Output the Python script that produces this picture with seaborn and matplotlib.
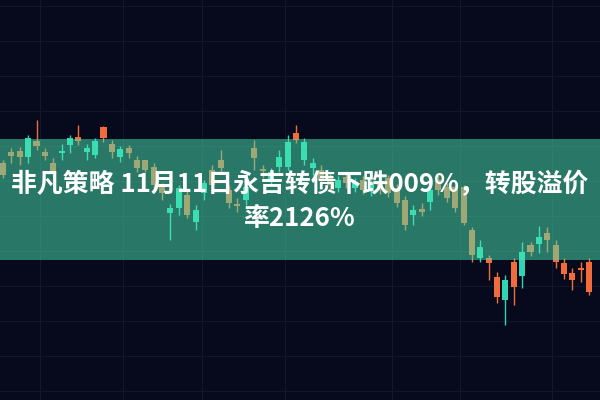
import numpy as np
import pandas as pd
import matplotlib
matplotlib.use("Agg")
import matplotlib.pyplot as plt
import seaborn as sns

# daily candles, price units
opens = [225, 244, 243, 262, 254, 244, 228, 249, 262, 259, 252, 259, 262, 248, 251, 247, 232, 230,
         215, 207, 192, 212, 185, 190, 217, 215, 232, 197, 194, 213, 242, 229, 228, 243, 258, 260,
         258, 237, 220, 215, 220, 217, 218, 210, 216, 210, 207, 197, 175, 190, 188, 210, 210, 202,
         192, 177, 145, 153, 137, 103, 120, 113, 148, 148, 163, 160, 138, 126, 120, 130, 108]
highs = [240, 252, 253, 265, 280, 252, 242, 256, 265, 275, 256, 262, 274, 260, 254, 255, 244, 240,
         237, 217, 196, 215, 210, 195, 220, 235, 250, 215, 202, 217, 260, 235, 232, 250, 265, 275,
         262, 242, 235, 228, 224, 228, 222, 224, 220, 221, 225, 216, 204, 195, 197, 215, 225, 217,
         215, 215, 173, 160, 145, 128, 125, 142, 158, 158, 174, 173, 160, 142, 132, 138, 142]
lows = [222, 237, 235, 237, 250, 240, 224, 240, 247, 255, 240, 242, 258, 242, 238, 242, 228, 228,
        212, 200, 160, 185, 182, 170, 200, 210, 228, 192, 188, 195, 230, 222, 214, 228, 230, 257,
        235, 225, 215, 210, 208, 212, 208, 206, 204, 206, 203, 193, 170, 175, 184, 190, 205, 198,
        188, 175, 138, 138, 120, 97, 75, 95, 112, 144, 147, 148, 132, 121, 110, 118, 105]
closes = [237, 248, 249, 243, 259, 248, 237, 247, 255, 263, 248, 245, 273, 256, 243, 252, 240, 240,
          233, 213, 187, 192, 205, 178, 207, 230, 240, 210, 196, 200, 252, 231, 220, 233, 233, 267,
          240, 232, 230, 222, 212, 223, 212, 220, 209, 217, 222, 212, 200, 185, 191, 198, 220, 213,
          213, 213, 170, 142, 142, 123, 100, 138, 124, 155, 156, 167, 155, 137, 127, 132, 138]

title_lines = ["非凡策略 11月11日永吉转债下跌009%，转股溢价", "率2126%"]

df = pd.DataFrame({"open": opens, "high": highs, "low": lows, "close": closes})
df["day"] = np.arange(len(df))

bg = "#070a1c"
up_color = "#f26b3a"
down_color = "#2fd4b4"

sns.set_theme(style="dark", rc={"axes.facecolor": bg, "figure.facecolor": bg,
                                "grid.color": "#121729", "grid.linewidth": 0.8})
plt.rcParams["font.family"] = ["Noto Sans CJK SC", "DejaVu Sans"]

fig = plt.figure(figsize=(6, 4), dpi=100)
ax = fig.add_axes([0, 0, 1, 1])

colors = np.where(df["close"] >= df["open"], up_color, down_color)
ax.vlines(df["day"], df["low"], df["high"], colors=colors, linewidth=1.0, zorder=2)
bottom = np.minimum(df["open"], df["close"])
height = np.maximum(np.abs(df["close"] - df["open"]), 1.5)
ax.bar(df["day"], height, bottom=bottom, width=0.72, color=colors, linewidth=0, zorder=2)

ax.set_xlim(-0.36, 71.3)
ax.set_ylim(0, 400)
ax.set_xticks([4.4, 14.3, 23.8, 33.7, 46.4, 54.6, 65.6])
ax.set_yticks(np.arange(9, 400, 35))
ax.grid(True, zorder=0)
ax.set_xticklabels([])
ax.set_yticklabels([])
ax.tick_params(length=0)
for s in ax.spines.values():
    s.set_visible(False)

# translucent green band behind the headline
ax.axhspan(140, 261, color="#4ce6b2", alpha=0.5, linewidth=0, zorder=3)

fig.text(0.5, 1 - 185 / 400, title_lines[0], ha="center", va="center",
         fontsize=18.6, fontweight="bold", color="white", zorder=5)
fig.text(0.5, 1 - 218 / 400, title_lines[1], ha="center", va="center",
         fontsize=18.6, fontweight="bold", color="white", zorder=5)

fig.savefig("out.png", dpi=100, facecolor=bg)
